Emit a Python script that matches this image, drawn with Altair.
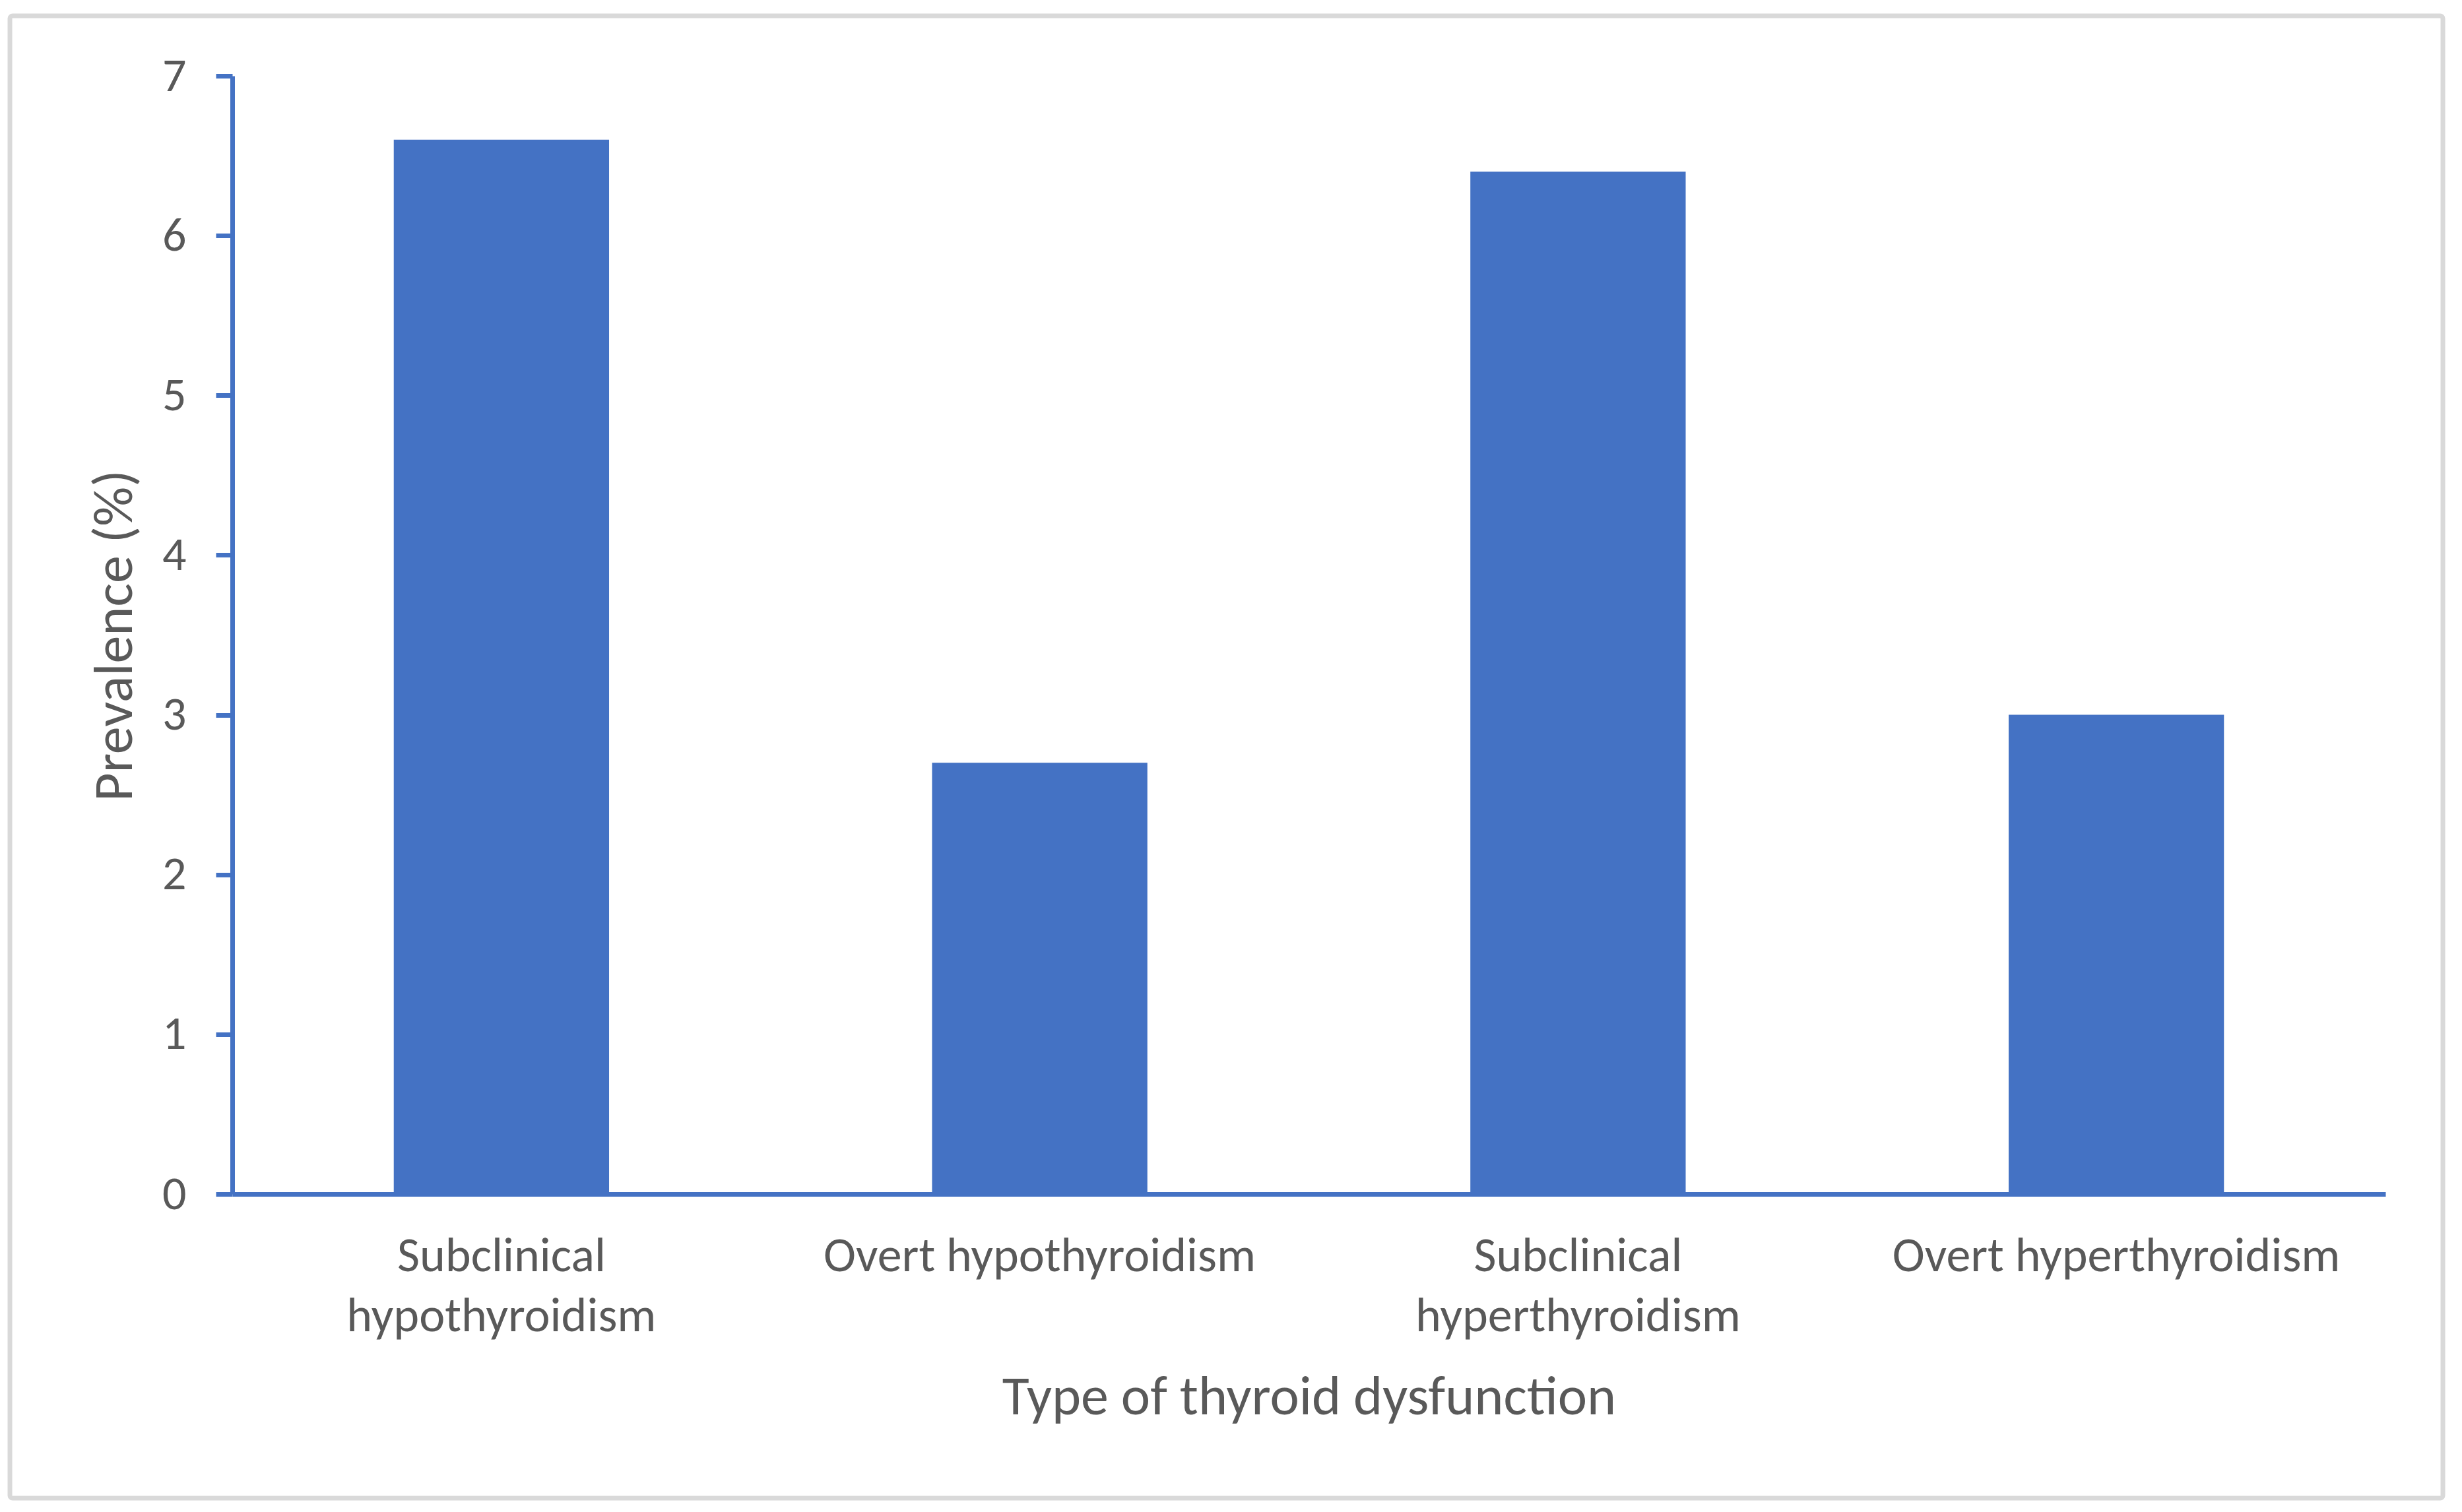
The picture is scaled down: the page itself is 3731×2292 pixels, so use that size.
import altair as alt
import pandas as pd

categories = ["Subclinical hypothyroidism", "Overt hypothyroidism",
              "Subclinical hyperthyroidism", "Overt hyperthyroidism"]
prevalence = [6.6, 2.7, 6.4, 3.0]
y_ticks = [0, 1, 2, 3, 4, 5, 6, 7]

df = pd.DataFrame({"type": categories, "prev": prevalence})

FONT = "Carlito, Calibri, Lato"
BLUE = "#4472C4"
GREY = "#595959"

border = alt.Chart(pd.DataFrame({"k": [0]})).mark_rect(
    fillOpacity=0, stroke="#D9D9D9", strokeWidth=7, cornerRadius=4, clip=False
).encode(
    x=alt.value(-337), x2=alt.value(3350), y=alt.value(-91), y2=alt.value(2156)
)

bars = alt.Chart(df).mark_bar(color=BLUE).encode(
    x=alt.X("type:N", sort=categories,
            scale=alt.Scale(paddingInner=0.6, paddingOuter=0.3),
            axis=alt.Axis(
                title="Type of thyroid dysfunction", labelAngle=0, zindex=1,
                labelExpr="indexof(datum.label, 'Subclinical') == 0 ? ['Subclinical', substring(datum.label, 12)] : datum.label",
                labelFont=FONT, labelFontSize=74, labelColor=GREY, labelLimit=2000,
                labelLineHeight=91, labelPadding=58,
                ticks=False, tickSize=0,
                domainColor=BLUE, domainWidth=7,
                titleFont=FONT, titleFontSize=84, titleFontWeight="normal", titleColor=GREY,
                titleY=333, titleBaseline="alphabetic")),
    y=alt.Y("prev:Q", scale=alt.Scale(domain=[0, 7], nice=False),
            axis=alt.Axis(
                title="Prevalence (%)", values=y_ticks, grid=False, zindex=1,
                labelFont=FONT, labelFontSize=72, labelColor=GREY, labelPadding=45,
                tickColor=BLUE, tickWidth=7, tickSize=25,
                domainColor=BLUE, domainWidth=7,
                titleFont=FONT, titleFontSize=84, titleFontWeight="normal", titleColor=GREY,
                titleAngle=270, titleBaseline="alphabetic", titleX=-153, titleY=848))
)

chart = alt.layer(border, bars).properties(
    width=3263, height=1695,
    autosize=alt.AutoSizeParams(type="none"),
    padding={"left": 344, "top": 107, "right": 100, "bottom": 472},
    background="white"
).configure_view(stroke=None)

chart.save("out.html", embed_options={"renderer": "svg", "actions": False})
